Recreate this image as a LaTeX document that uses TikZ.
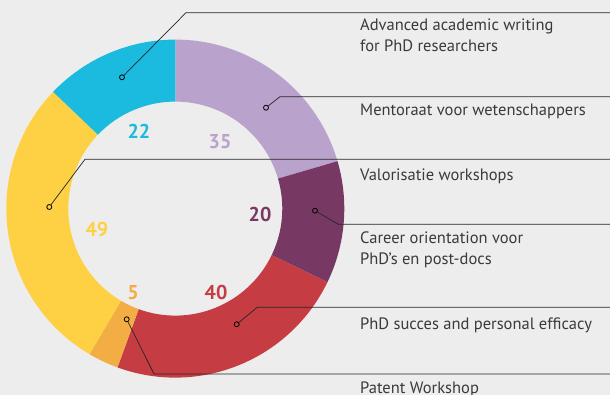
\documentclass[tikz,border=0pt]{standalone}
\usepackage{fontspec}
\setmainfont{PT Sans}
\usepackage{tikz}

\definecolor{bggray}{HTML}{EDEDED}
\definecolor{segcyan}{HTML}{1BBADF}
\definecolor{seglilac}{HTML}{B9A2CC}
\definecolor{segplum}{HTML}{773963}
\definecolor{segred}{HTML}{C63C43}
\definecolor{segorange}{HTML}{F2AE45}
\definecolor{segyellow}{HTML}{FDD143}
\definecolor{inkgray}{HTML}{3A3A3A}

\begin{document}
\begin{tikzpicture}[x=1pt,y=1pt]

  \fill[bggray] (-175.3,-186.4) rectangle (434.7,208.6);
  \useasboundingbox (-175.3,-186.4) rectangle (434.7,208.6);

  \node[anchor=center,inner sep=0pt] (X) at (0,0) {};
  \coordinate (R) at (434.7,0);

  % node styles
  \tikzstyle{Num}=[
  font=\fontsize{20}{20}\selectfont\bfseries,
  inner sep=0pt]

  \tikzstyle{Label}=[
  anchor=base west,
  align=left,
  text=inkgray,
  font=\fontsize{16.5}{21.3}\selectfont,
  inner sep=0pt]

  \tikzstyle{Dot}=[shape=circle,draw=black,line width=0.8pt,minimum size=5pt,inner sep=0pt]
  \tikzstyle{Leader}=[line width=0.7pt,draw=black!85]

  % ring
  \def\ro{169}
  \def\ri{107}
  \fill[seglilac]  (90:\ro)     arc (90:16.3:\ro)      -- (16.3:\ri)   arc (16.3:90:\ri)      -- cycle;
  \fill[segplum]   (16.3:\ro)   arc (16.3:-25.8:\ro)   -- (-25.8:\ri)  arc (-25.8:16.3:\ri)   -- cycle;
  \fill[segred]    (-25.8:\ro)  arc (-25.8:-110:\ro)   -- (-110:\ri)   arc (-110:-25.8:\ri)   -- cycle;
  \fill[segorange] (-110:\ro)   arc (-110:-120.5:\ro)  -- (-120.5:\ri) arc (-120.5:-110:\ri)  -- cycle;
  \fill[segyellow] (-120.5:\ro) arc (-120.5:-223.7:\ro) -- (-223.7:\ri) arc (-223.7:-120.5:\ri) -- cycle;
  \fill[segcyan]   (-223.7:\ro) arc (-223.7:-270:\ro)  -- (-270:\ri)   arc (-270:-223.7:\ri)  -- cycle;

  % numbers
  \draw (X) node[Num,text=segcyan]   (n22) at +(-36.3, 77.6) {22};
  \draw (X) node[Num,text=seglilac]  (n35) at +( 44.7, 66.6) {35};
  \draw (X) node[Num,text=segplum]   (n20) at +( 84.7, -6.4) {20};
  \draw (X) node[Num,text=segred]    (n40) at +( 40.7,-84.4) {40};
  \draw (X) node[Num,text=segorange] (n5)  at +(-42.3,-84.4) {5};
  \draw (X) node[Num,text=segyellow] (n49) at +(-78.3,-21.4) {49};

  % dots and elbows
  \draw (X) node[Dot] (dwriting)  at +(-53.3, 131.3) {};
  \draw (X) node[Dot] (dmentor)   at +( 90.7, 100.9) {};
  \draw (X) node[Dot] (dvalor)    at +(-126.0,  1.6) {};
  \draw (X) node[Dot] (dcareer)   at +(139.7,  -2.1) {};
  \draw (X) node[Dot] (dsucces)   at +( 61.4,-115.7) {};
  \draw (X) node[Dot] (dpatent)   at +(-48.6,-110.7) {};

  \coordinate (ewriting) at ( 10.7, 195.9);
  \coordinate (ementor)  at (104.7, 111.9);
  \coordinate (evalor)   at (-90.3,  49.3);
  \coordinate (ecareer)  at (163.0, -15.7);
  \coordinate (esucces)  at ( 82.0, -98.7);
  \coordinate (epatent)  at (-21.3,-165.4);

  \draw[Leader] (dwriting) -- (ewriting) -- (ewriting -| R);
  \draw[Leader] (dmentor)  -- (ementor)  -- (ementor -| R);
  \draw[Leader] (dvalor)   -- (evalor)   -- (evalor -| R);
  \draw[Leader] (dcareer)  -- (ecareer)  -- (ecareer -| R);
  \draw[Leader] (dsucces)  -- (esucces)  -- (esucces -| R);
  \draw[Leader] (dpatent)  -- (epatent)  -- (epatent -| R);

  % labels (two-line labels sit on their last baseline)
  \draw (X) node[Label] (lwriting) at +(184.7, 156.6) {Advanced academic writing\\for PhD researchers};
  \draw (X) node[Label] (lmentor)  at +(184.7,  92.6) {Mentoraat voor wetenschappers};
  \draw (X) node[Label] (lvalor)   at +(184.7,  28.3) {Valorisatie workshops};
  \draw (X) node[Label] (lcareer)  at +(184.7, -56.4) {Career orientation voor\\PhD’s en post-docs};
  \draw (X) node[Label] (lsucces)  at +(184.7,-120.7) {PhD succes and personal efficacy};
  \draw (X) node[Label] (lpatent)  at +(184.7,-184.7) {Patent Workshop};

\end{tikzpicture}
\end{document}
